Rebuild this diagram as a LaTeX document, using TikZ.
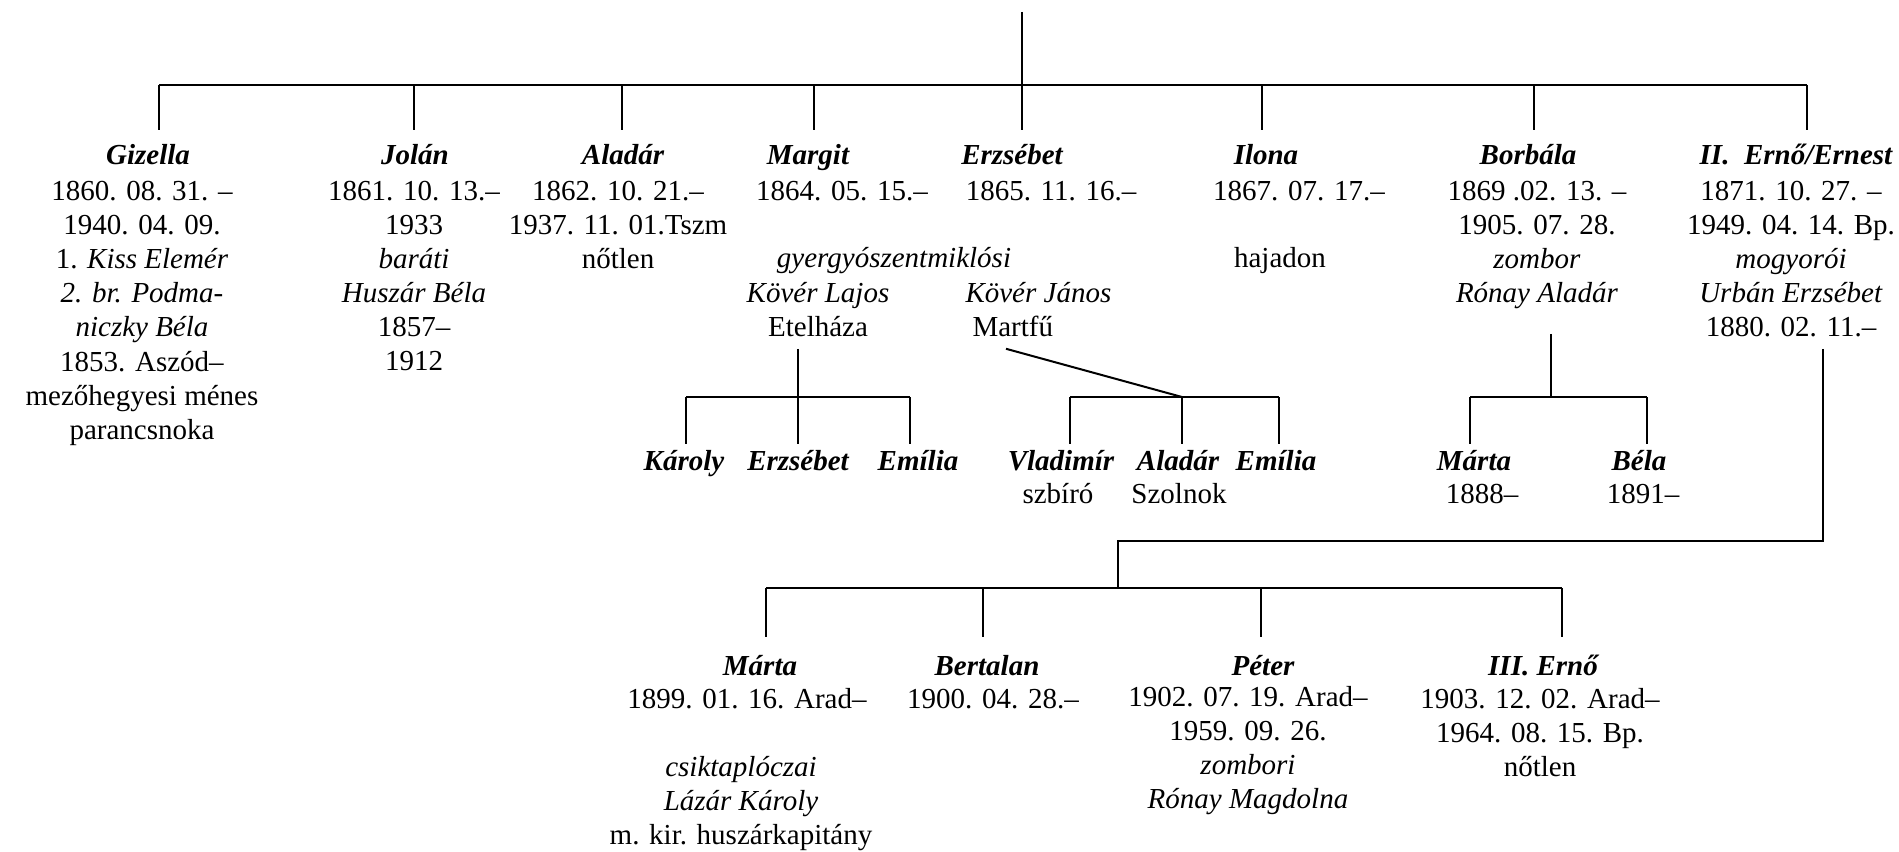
\documentclass[tikz,border=0pt]{standalone}
\usepackage{fontspec}
\setmainfont{Liberation Serif}
\usetikzlibrary{positioning,calc}
\newcommand{\betu}{\fontsize{11.6}{13.6}\selectfont}
\begin{document}
\begin{tikzpicture}[x=0.4pt,y=-0.4pt,
    every node/.style={inner sep=0pt,font=\betu},
    nev/.style={anchor=base,text height=8pt,text depth=2.5pt,font=\betu\bfseries\itshape},
    adat/.style={anchor=base,align=center},
    vonal/.style={line width=0.8pt}]
  \useasboundingbox (0,0) rectangle (1899,852);

  % elso nemzedek (adat: az utolso sor alapvonala)
  \node[nev] (gizella) at (148,165) {Gizella};
  \node[nev] (jolan) at (415,165) {Jolán};
  \node[nev] (aladar) at (623,165) {Aladár};
  \node[nev] (margit) at (808,165) {Margit};
  \node[nev] (erzsebet) at (1012,165) {Erzsébet};
  \node[nev] (ilona) at (1266,165) {Ilona};
  \node[nev] (borbala) at (1528,165) {Borbála};
  \node[nev] (erno) at (1796,165) {II.\enspace Ernő/Ernest};

  \node[adat] (gizella-adat) at (142,439) {1860. 08. 31. –\\1940. 04. 09.\\1. \textit{Kiss Elemér}\\\textit{2. br. Podma-}\\\textit{niczky Béla}\\1853. Aszód–\\mezőhegyesi ménes\\parancsnoka};
  \node[adat] (jolan-adat) at (414,371) {1861. 10. 13.–\\1933\\\textit{baráti}\\\textit{Huszár Béla}\\1857–\\1912};
  \node[adat] (aladar-adat) at (618,269) {1862. 10. 21.–\\1937. 11. 01.Tszm\\nőtlen};
  \node[adat] (margit-adat) at (842,201) {1864. 05. 15.–};
  \node[adat] (erzsebet-adat) at (1051,201) {1865. 11. 16.–};
  \node[adat] (ilona-adat) at (1299,201) {1867. 07. 17.–};
  \node[adat] (ilona-allapot) at (1280,268) {hajadon};
  \node[adat] (borbala-adat) at (1537,303) {1869 .02. 13. –\\1905. 07. 28.\\\textit{zombor}\\\textit{Rónay Aladár}};
  \node[adat] (erno-adat) at (1791,337) {1871. 10. 27. –\\1949. 04. 14. Bp.\\\textit{mogyorói}\\\textit{Urbán Erzsébet}\\1880. 02. 11.–};

  \node[adat,font=\betu\itshape] (gyergyo) at (894,268) {gyergyószentmiklósi};
  \node[adat] (lajos) at (818,337) {\textit{Kövér Lajos}\\Etelháza};
  \node[adat,align=left,anchor=base west] (janos) at (965,337) {\textit{Kövér János}\\\hspace{2.8pt}Martfű};

  % unokak
  \node[nev] (karoly) at (684,470) {Károly};
  \node[nev] (erzsebetk) at (798,470) {Erzsébet};
  \node[nev] (emilia) at (918,470) {Emília};
  \node[nev] (vladimir) at (1061,470) {Vladimír};
  \node[nev] (aladark) at (1178,470) {Aladár};
  \node[nev] (emiliak) at (1276,470) {Emília};
  \node[nev] (marta) at (1474,470) {Márta};
  \node[nev] (bela) at (1639,470) {Béla};
  \node[adat] (vladimir-adat) at (1058,503) {szbíró};
  \node[adat] (aladark-adat) at (1179,503) {Szolnok};
  \node[adat] (marta-adat) at (1482,503) {1888–};
  \node[adat] (bela-adat) at (1643,503) {1891–};

  \node[nev] (martau) at (760,675) {Márta};
  \node[nev] (bertalan) at (987,675) {Bertalan};
  \node[nev] (peter) at (1263,675) {Péter};
  \node[nev] (ernou) at (1543,675) {III. Ernő};
  \node[adat] (martau-adat) at (747,708) {1899. 01. 16. Arad–};
  \node[adat] (lazar) at (741,844) {\textit{csiktaplóczai}\\\textit{Lázár Károly}\\m. kir. huszárkapitány};
  \node[adat] (bertalan-adat) at (993,708) {1900. 04. 28.–};
  \node[adat] (peter-adat) at (1248,808) {1902. 07. 19. Arad–\\1959. 09. 26.\\\textit{zombori}\\\textit{Rónay Magdolna}};
  \node[adat] (ernou-adat) at (1540,776) {1903. 12. 02. Arad–\\1964. 08. 15. Bp.\\nőtlen};

  % vonalak
  \coordinate (szulok) at (1022,12);
  \coordinate (gyerekek) at (1022,85);
  \coordinate (sor-bal) at (159,85);
  \coordinate (sor-jobb) at (1807,85);
  \draw[vonal] (szulok) -- (gyerekek);
  \draw[vonal] (sor-bal) -- (sor-jobb);
  \foreach \x/\n in {159/gizella,414/jolan,622/aladar,814/margit,1022/erzsebet,1262/ilona,1534/borbala,1807/erno}
    \draw[vonal,shorten >=5.6pt] (\x,85) -- (\x,0 |- \n.north);

  \coordinate (lajos-csalad) at (798,397);
  \draw[vonal,shorten <=4.4pt] (lajos-csalad |- lajos.south) -- (lajos-csalad);
  \draw[vonal] (686,397) -- (910,397);
  \foreach \x/\n in {686/karoly,798/erzsebetk,910/emilia}
    \draw[vonal,shorten >=2.4pt] (\x,397) -- (\x,0 |- \n.north);

  \coordinate (janos-csalad) at (1182,397);
  \draw[vonal] ($(janos.south west)+(41,11)$) -- (janos-csalad);
  \draw[vonal] (1070,397) -- (1279,397);
  \foreach \x/\n in {1070/vladimir,1182/aladark,1279/emiliak}
    \draw[vonal,shorten >=2.4pt] (\x,397) -- (\x,0 |- \n.north);

  \coordinate (aladar-csalad) at (1551,397);
  \draw[vonal,shorten <=9.6pt] (aladar-csalad |- borbala-adat.south) -- (aladar-csalad);
  \draw[vonal] (1470,397) -- (1647,397);
  \foreach \x/\n in {1470/marta,1647/bela}
    \draw[vonal,shorten >=2.4pt] (\x,397) -- (\x,0 |- \n.north);

  \coordinate (urban-csalad) at (1118,588);
  \draw[vonal,shorten <=4.4pt] (1823,0 |- erno-adat.south) |- (1118,541) -- (urban-csalad);
  \draw[vonal] (766,588) -- (1562,588);
  \foreach \x/\n in {766/martau,983/bertalan,1261/peter,1562/ernou}
    \draw[vonal,shorten >=7.2pt] (\x,588) -- (\x,0 |- \n.north);
\end{tikzpicture}
\end{document}
